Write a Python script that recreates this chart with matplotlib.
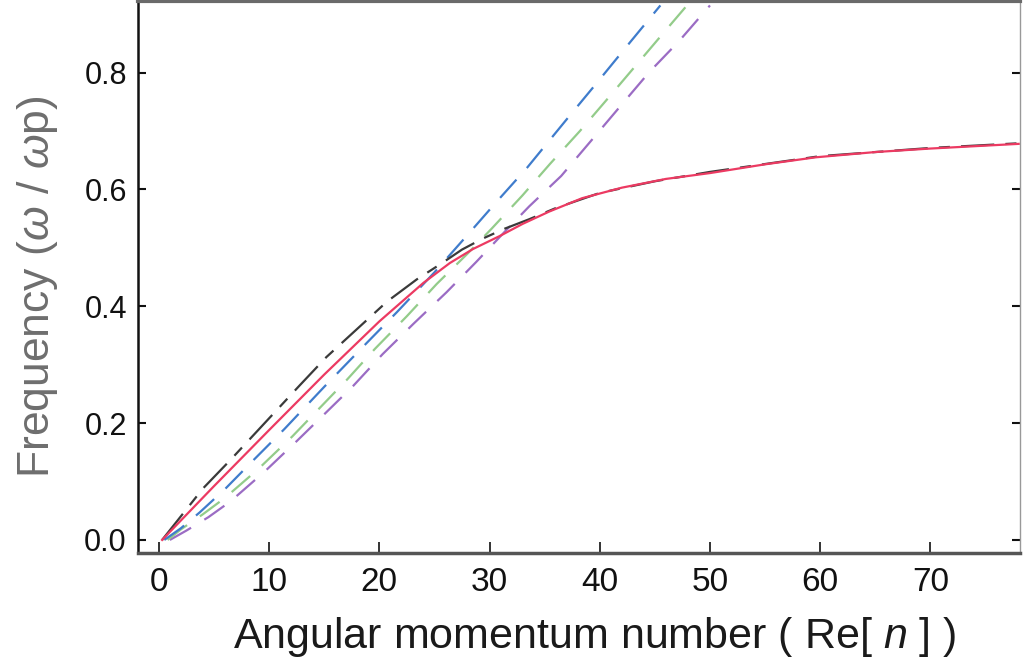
import matplotlib
matplotlib.use("Agg")
import matplotlib.pyplot as plt

# ---- data ----
red_n = [0.3, 5, 10, 15, 20, 24, 26.4, 28.5, 30.9, 33, 35.4, 38.4, 42, 46, 50, 55, 59.6, 65, 70, 74, 78]
red_v = [0.0, 0.092, 0.188, 0.283, 0.374, 0.440, 0.474, 0.498, 0.520, 0.541, 0.562, 0.585, 0.603, 0.618, 0.628, 0.643, 0.655, 0.664, 0.670, 0.674, 0.678]

black_n = [0.3, 4, 6.5, 12.8, 15.2, 20.7, 23.4, 25.7, 27.5, 29.4, 31.4, 33.6, 36, 40, 45, 50, 60, 70, 78]
black_v = [0.0, 0.088, 0.137, 0.265, 0.313, 0.408, 0.446, 0.474, 0.497, 0.516, 0.533, 0.549, 0.568, 0.594, 0.614, 0.630, 0.657, 0.671, 0.679]

blue_n = [0.5, 2.0, 3.7, 6.0, 8.5, 11.4, 15.0, 18.9, 21.6, 25.0, 28.0, 30.6, 33.4, 37.0, 39.5, 42.1, 45.5]
blue_v = [0.0, 0.02, 0.047, 0.087, 0.135, 0.19, 0.262, 0.338, 0.39, 0.458, 0.522, 0.578, 0.637, 0.72, 0.777, 0.837, 0.915]

green_n = [0.8, 2.0, 4.0, 6.0, 9.0, 12.1, 17.1, 19.6, 22.5, 25.2, 28.0, 30.2, 33.0, 35.5, 38.2, 40.7, 43.4, 46.1, 48.5]
green_v = [0.0, 0.018, 0.044, 0.072, 0.121, 0.177, 0.275, 0.327, 0.383, 0.438, 0.49, 0.533, 0.59, 0.644, 0.70, 0.755, 0.815, 0.875, 0.928]

purple_n = [1.0, 2.5, 4.5, 6.5, 9.6, 12.5, 15.0, 17.6, 20.3, 23.1, 26.1, 28.8, 31.5, 33.6, 36.5, 39.2, 41.8, 44.5, 47.2, 50.0]
purple_v = [0.0, 0.016, 0.039, 0.066, 0.117, 0.169, 0.215, 0.263, 0.318, 0.37, 0.424, 0.476, 0.53, 0.571, 0.623, 0.683, 0.741, 0.801, 0.854, 0.915]

x_ticks = [0, 10, 20, 30, 40, 50, 60, 70]
y_ticks = [0.0, 0.2, 0.4, 0.6, 0.8]
x_label = "Angular momentum number ( Re[ $n$ ] )"
y_label = "Frequency ($\\omega$ / $\\omega$p)"

# ---- style ----
plt.rcParams['font.family'] = ['Liberation Sans', 'DejaVu Sans']
plt.rcParams['mathtext.fontset'] = 'custom'
plt.rcParams['mathtext.rm'] = 'Liberation Sans'
plt.rcParams['mathtext.it'] = 'Liberation Sans:italic'

fig = plt.figure(figsize=(10.29, 6.66), dpi=100)
ax = fig.add_axes([0.134, 0.170, 0.857, 0.828])

dash = (0, (11, 7))
ax.plot(purple_n, purple_v, color='#9b6cc4', lw=1.6, ls=dash, zorder=2)
ax.plot(green_n, green_v, color='#93cc8a', lw=1.6, ls=dash, zorder=2)
ax.plot(blue_n, blue_v, color='#3f7ccc', lw=1.6, ls=dash, zorder=2)
ax.plot(black_n, black_v, color='#3a3a3a', lw=1.6, ls=(0, (15, 5, 5, 5)), zorder=3)
ax.plot(red_n, red_v, color='#ec3a62', lw=1.6, zorder=4)

ax.set_xlim(-1.9, 78.1)
ax.set_ylim(-0.022, 0.922)
ax.set_xticks(x_ticks)
ax.set_yticks(y_ticks)
ax.set_yticklabels([f"{t:.1f}" for t in y_ticks])

ax.tick_params(axis='y', direction='in', length=6, width=1.5, left=True, right=True,
               labelsize=22, pad=8, colors='#111')
ax.tick_params(axis='x', direction='in', length=8, width=1.2, top=False,
               labelsize=24, pad=10, colors='#111')

ax.spines['left'].set_color('#111')
ax.spines['left'].set_linewidth(1.8)
ax.spines['bottom'].set_color('#555')
ax.spines['bottom'].set_linewidth(2.5)
ax.spines['top'].set_color('#6a6a6a')
ax.spines['top'].set_linewidth(3)
ax.spines['right'].set_color('#999')
ax.spines['right'].set_linewidth(1.0)

ax.set_xlabel(x_label, fontsize=31, color='#1a1a1a')
ax.xaxis.set_label_coords(0.518, -0.112)
ax.set_ylabel(y_label, fontsize=32, color='#6e6e6e')
ax.yaxis.set_label_coords(-0.088, 0.482)

fig.savefig('out.png', dpi=100)
